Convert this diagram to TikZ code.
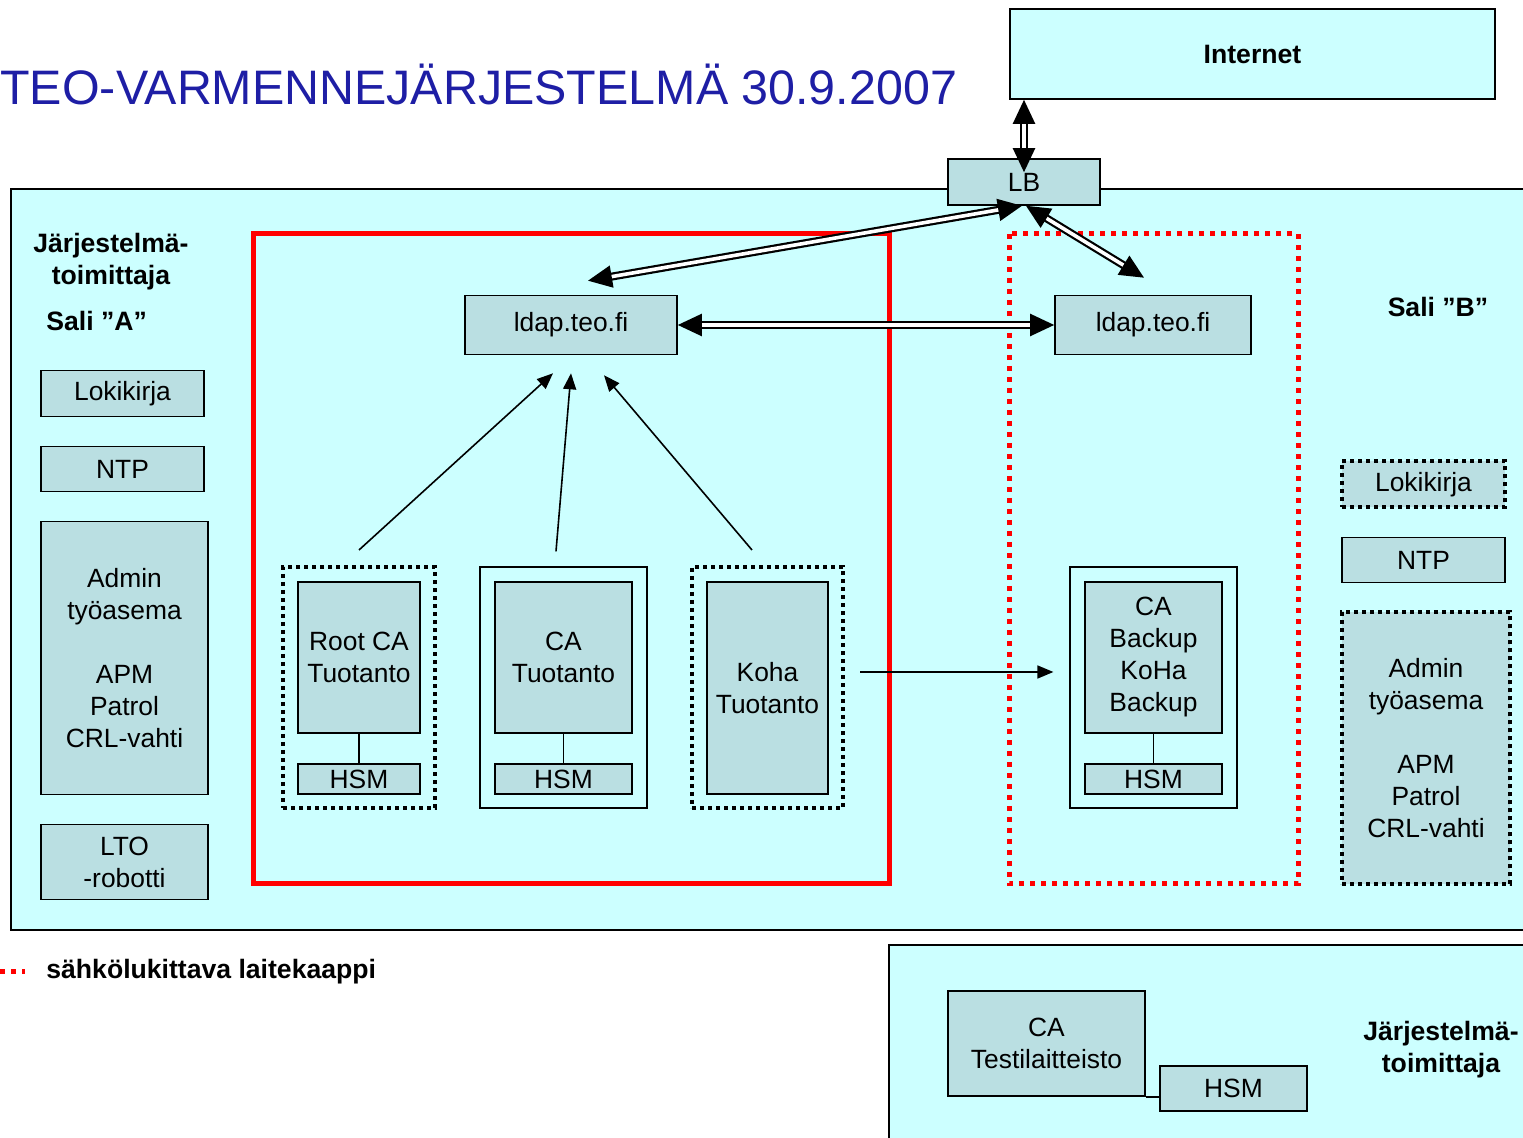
\documentclass[tikz,border=0pt]{standalone}
\usepackage{fontspec}
\setmainfont{Liberation Sans}
\usetikzlibrary{arrows.meta}
\definecolor{sali}{RGB}{204,255,255}
\definecolor{laitevari}{RGB}{186,223,226}
\definecolor{otsikkovari}{RGB}{30,30,165}

\tikzset{
  laite/.style={draw, line width=0.8pt, fill=laitevari, align=center, inner sep=0pt,
    font=\fontsize{13.2}{16}\selectfont},
  ryhma/.style={draw, line width=0.6pt, inner sep=0pt},
  pisteet/.style={line width=2pt, dash pattern=on 2pt off 2pt},
  lukko/.style={red, line width=2.5pt, dash pattern=on 2.5pt off 3pt},
  otsake/.style={font=\bfseries\fontsize{13.3}{16}\selectfont, align=center, inner sep=0pt},
  nuoli/.style={line width=0.8pt, -{Triangle[length=8pt,width=6.5pt]}},
  kaksi/.style={double, double distance=1.8pt, line width=1.1pt,
    {Triangle[length=12pt,width=11pt]}-{Triangle[length=12pt,width=11pt]}}
}

\begin{document}
\begin{tikzpicture}[x=0.5pt, y=-0.5pt]
\useasboundingbox (0,0) rectangle (1523,1138);

\fill[sali, draw=black, line width=0.8pt] (11,189) rectangle (1540,930);
\fill[sali, draw=black, line width=0.8pt] (889,945) rectangle (1540,1150);
\draw[red, line width=2.5pt] (253,234) rectangle (889,884);
\draw[lukko] (1009,234) rectangle (1298,884);

\node[anchor=west, inner sep=0pt, text=otsikkovari, font=\fontsize{24.2}{28}\selectfont] (otsikko) at (0,84) {TEO-VARMENNEJÄRJESTELMÄ 30.9.2007};
\node[laite, fill=sali, minimum width=242.5pt, minimum height=45pt, font=\bfseries\fontsize{13.3}{16}\selectfont] (internet) at (1252.5,54) {Internet};
\node[laite, minimum width=76pt, minimum height=23pt] (lb) at (1024,182) {LB};
\node[laite, minimum width=106pt, minimum height=29.5pt] (ldapA) at (571,325) {ldap.teo.fi};
\node[laite, minimum width=98pt, minimum height=29.5pt] (ldapB) at (1153,325) {ldap.teo.fi};

\node[otsake] (toimittajaA) at (111,262) {Järjestelmä-\\toimittaja};
\node[otsake, anchor=west] (saliA) at (46,321) {Sali ”A”};
\node[otsake] (saliB) at (1438,307) {Sali ”B”};
\node[laite, minimum width=81.5pt, minimum height=23pt] (lokiA) at (122.5,393.5) {Lokikirja};
\node[laite, minimum width=81.5pt, minimum height=22.5pt] (ntpA) at (122.5,469) {NTP};
\node[laite, minimum width=83.5pt, minimum height=136.5pt] (adminA) at (124.5,658) {Admin\\työasema\\[16pt]APM\\Patrol\\CRL-vahti};
\node[laite, minimum width=83.5pt, minimum height=37.5pt] (ltoA) at (124.5,862) {LTO\\-robotti};
\node[laite, pisteet, minimum width=81.5pt, minimum height=23pt] (lokiB) at (1423.5,484.5) {Lokikirja};
\node[laite, minimum width=81.5pt, minimum height=22.5pt] (ntpB) at (1423.5,560) {NTP};
\node[laite, pisteet, minimum width=84pt, minimum height=136pt] (adminB) at (1426,748.5) {Admin\\työasema\\[16pt]APM\\Patrol\\CRL-vahti};

\node[ryhma, pisteet, minimum width=76pt, minimum height=120.5pt] (rootcaG) at (359,687.5) {};
\node[laite, minimum width=61pt, minimum height=75.5pt] (rootca) at (359,657.5) {Root CA\\Tuotanto};
\node[laite, minimum width=61pt, minimum height=15pt] (hsmA) at (359,779) {HSM};
\node[ryhma, minimum width=83.5pt, minimum height=120.5pt] (caG) at (563.5,687.5) {};
\node[laite, minimum width=68.5pt, minimum height=75.5pt] (ca) at (563.5,657.5) {CA\\Tuotanto};
\node[laite, minimum width=68.5pt, minimum height=15pt] (hsmB) at (563.5,779) {HSM};
\node[ryhma, pisteet, minimum width=75.5pt, minimum height=120.5pt] (kohaG) at (767.5,687.5) {};
\node[laite, minimum width=60.5pt, minimum height=106pt] (koha) at (767.5,688) {Koha\\Tuotanto};
\node[ryhma, minimum width=83.5pt, minimum height=120.5pt] (backupG) at (1153.5,687.5) {};
\node[laite, minimum width=68.5pt, minimum height=75.5pt] (backup) at (1153.5,657.5) {CA\\Backup\\KoHa\\Backup};
\node[laite, minimum width=68.5pt, minimum height=15pt] (hsmC) at (1153.5,779) {HSM};

\node[laite, minimum width=98.5pt, minimum height=52.5pt] (testi) at (1046.5,1043.5) {CA\\Testilaitteisto};
\node[laite, minimum width=73.5pt, minimum height=22.5pt] (hsmD) at (1233.5,1088.5) {HSM};
\node[otsake] (toimittajaB) at (1441,1050) {Järjestelmä-\\toimittaja};

\coordinate (selite) at (0,972);
\draw[lukko] (selite) -- ++(25,0);
\node[otsake, anchor=west] (selitys) at (46,972) {sähkölukittava laitekaappi};

\draw[line width=0.9pt] (rootca) -- (hsmA);
\draw[line width=0.9pt] (ca) -- (hsmB);
\draw[line width=0.9pt] (backup) -- (hsmC);
\draw[line width=0.9pt] (testi.south east) -- (testi.south east -| hsmD.west);

\draw[nuoli] ([yshift=7.5pt]rootcaG.north) -- ([shift={(-9pt,-9pt)}]ldapA.south);
\draw[nuoli] ([shift={(-3.75pt,7.5pt)}]caG.north) -- ([yshift=-9pt]ldapA.south);
\draw[nuoli] ([shift={(-7.75pt,7.5pt)}]kohaG.north) -- ([shift={(16.5pt,-10pt)}]ldapA.south);
\draw[nuoli] ([shift={(7.5pt,7.75pt)}]kohaG.east) -- ([shift={(-8pt,7.75pt)}]backupG.west);

\draw[kaksi] (lb.center |- internet.south) -- ([yshift=-7pt]lb.north);
\draw[kaksi] ([xshift=-1pt]lb.south) -- ([shift={(8.5pt,7pt)}]ldapA.north);
\draw[kaksi] ([xshift=1pt]lb.south) -- ([shift={(-4.5pt,8.5pt)}]ldapB.north);
\draw[kaksi] (ldapA.east) -- (ldapB.west);
\end{tikzpicture}
\end{document}
